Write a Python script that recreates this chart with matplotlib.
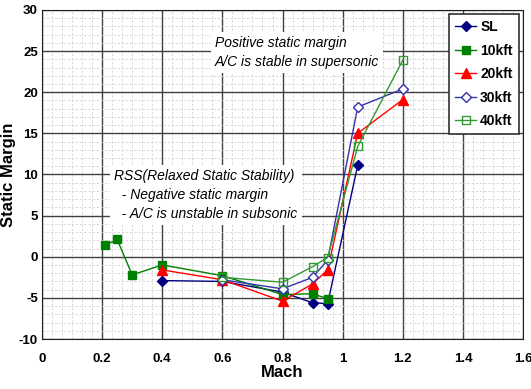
import numpy as np
import matplotlib
matplotlib.use("Agg")
import matplotlib.pyplot as plt
from matplotlib.ticker import MultipleLocator

# Mach / static margin per altitude
mach_sl = [0.4, 0.6, 0.8, 0.9, 0.95, 1.05]
sm_sl = [-2.9, -3.0, -4.3, -5.6, -5.7, 11.1]

mach_10 = [0.21, 0.25, 0.3, 0.4, 0.6, 0.8, 0.9, 0.95]
sm_10 = [1.4, 2.1, -2.2, -1.0, -2.3, -4.6, -4.5, -5.1]

mach_20 = [0.4, 0.6, 0.8, 0.9, 0.95, 1.05, 1.2]
sm_20 = [-1.6, -2.8, -5.4, -3.3, -1.6, 15.0, 19.1]

mach_30 = [0.6, 0.8, 0.9, 0.95, 1.05, 1.2]
sm_30 = [-2.8, -3.9, -2.5, -0.4, 18.2, 20.4]

mach_40 = [0.6, 0.8, 0.9, 0.95, 1.05, 1.2]
sm_40 = [-2.5, -3.1, -1.2, -0.1, 13.4, 23.9]

xticks = [0, 0.2, 0.4, 0.6, 0.8, 1, 1.2, 1.4, 1.6]
xtick_labels = ['0', '0.2', '0.4', '0.6', '0.8', '1', '1.2', '1.4', '1.6']
yticks = [-10, -5, 0, 5, 10, 15, 20, 25, 30]

plt.rcParams['font.family'] = ['Liberation Sans', 'DejaVu Sans']

fig = plt.figure(figsize=(5.31, 3.89), dpi=100)
ax = fig.add_axes([0.0791, 0.1285, 0.906, 0.846])

ax.plot(mach_sl, sm_sl, color='#000080', lw=1, marker='D', ms=5,
        mfc='#000080', mec='#000080', label='SL', zorder=3)
ax.plot(mach_10, sm_10, color='#008000', lw=1, marker='s', ms=6,
        mfc='#008000', mec='#008000', label='10kft', zorder=3)
ax.plot(mach_20, sm_20, color='#ff0000', lw=1, marker='^', ms=7,
        mfc='#ff0000', mec='#ff0000', label='20kft', zorder=3)
ax.plot(mach_30, sm_30, color='#3333aa', lw=1, marker='D', ms=5,
        mfc='white', mec='#3333aa', label='30kft', zorder=3)
ax.plot(mach_40, sm_40, color='#339933', lw=1, marker='s', ms=6,
        mfc='none', mec='#339933', label='40kft', zorder=3)

ax.set_xlim(0, 1.6)
ax.set_ylim(-10, 30)
ax.xaxis.set_minor_locator(MultipleLocator(0.2 / 6))
ax.yaxis.set_minor_locator(MultipleLocator(1))
ax.grid(which='major', color='#404040', lw=1)
ax.grid(which='minor', color='#d4d4d4', lw=0.6, ls=(0, (3, 2)))
ax.tick_params(which='both', length=0)

ax.set_xticks(xticks)
ax.set_xticklabels(xtick_labels, fontweight='bold', fontsize=9.5)
ax.set_yticks(yticks)
ax.set_yticklabels([str(v) for v in yticks], fontweight='bold', fontsize=9.5)
ax.tick_params(axis='x', pad=10)
ax.tick_params(axis='y', pad=3)
for s in ax.spines.values():
    s.set_color('#202020')

ax.set_xlabel('Mach', fontsize=12, fontweight='bold', labelpad=0)
ax.set_ylabel('Static Margin', fontsize=12, fontweight='bold', labelpad=2)

ax.text(0.575, 24.8, 'Positive static margin\nA/C is stable in supersonic',
        fontsize=10, style='italic', linespacing=1.45, va='center', ha='left',
        bbox=dict(facecolor='white', edgecolor='none', pad=3), zorder=2)
ax.text(0.24, 7.5, 'RSS(Relaxed Static Stability)\n  - Negative static margin\n  - A/C is unstable in subsonic',
        fontsize=10, style='italic', linespacing=1.45, va='center', ha='left',
        bbox=dict(facecolor='white', edgecolor='none', pad=3), zorder=2)

leg = ax.legend(loc='upper right', prop={'size': 10, 'weight': 'bold'},
                frameon=True, fancybox=False, edgecolor='#303030',
                handlelength=1.5, handletextpad=0.3, borderpad=0.45,
                labelspacing=0.68, borderaxespad=0.3, framealpha=1)
leg.get_frame().set_linewidth(1.2)

fig.savefig('out.png', dpi=100)
